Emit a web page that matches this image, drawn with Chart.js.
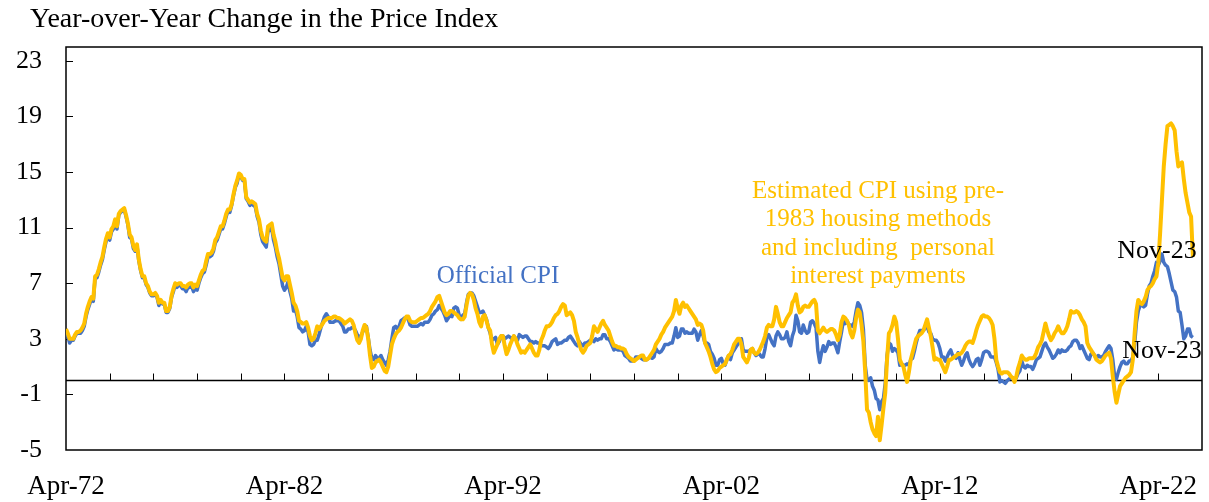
<!DOCTYPE html>
<html>
<head>
<meta charset="utf-8">
<script src="https://cdn.jsdelivr.net/npm/chart.js@4.4.1/dist/chart.umd.min.js"></script>
<style>
  html, body { margin: 0; padding: 0; background: #fff; }
  #c { display: block; }
</style>
</head>
<body>
<canvas id="c" width="1209" height="502"></canvas>
<script>
/* monthly series, Apr-72 .. Nov-23 (one row per calendar year) */
const xTickLabels = ['Apr-72', 'Apr-82', 'Apr-92', 'Apr-02', 'Apr-12', 'Apr-22'];
const yTicks = [-5, -1, 3, 7, 11, 15, 19, 23];

const officialCpi = [
  3.5,3.2,2.7,2.9,2.9,3.2,3.4,3.4,3.4,
  3.6,3.9,4.6,5.1,5.5,5.9,5.7,7.4,7.4,7.8,8.3,8.7,
  9.4,10.0,10.4,10.1,10.7,10.9,11.5,10.9,11.9,12.1,12.2,12.3,
  11.8,11.2,10.3,10.2,9.5,9.3,9.7,8.6,7.9,7.4,7.4,6.9,
  6.7,6.3,6.1,6.1,6.2,6.0,5.4,5.7,5.5,5.5,4.9,4.9,
  5.2,6.0,6.4,6.9,6.7,6.9,6.8,6.6,6.6,6.4,6.7,6.7,
  6.8,6.4,6.6,6.5,7.0,7.4,7.7,7.8,8.3,8.9,8.9,9.0,
  9.3,9.9,10.1,10.5,10.9,10.9,11.3,11.8,12.2,12.1,12.6,13.3,
  13.9,14.2,14.8,14.7,14.4,14.4,13.1,12.9,12.6,12.8,12.6,12.5,
  11.8,11.4,10.5,10.0,9.8,9.6,10.8,10.8,11.0,10.1,9.6,8.9,
  8.4,7.6,6.8,6.5,6.7,7.1,6.4,5.9,5.0,5.1,4.6,3.8,
  3.7,3.5,3.6,3.9,3.5,2.6,2.5,2.6,2.9,2.9,3.3,3.8,
  4.2,4.6,4.8,4.6,4.2,4.2,4.2,4.3,4.3,4.3,4.1,3.9,
  3.5,3.5,3.7,3.7,3.8,3.8,3.6,3.3,3.1,3.2,3.5,3.8,
  3.9,3.1,2.2,1.6,1.5,1.8,1.6,1.6,1.8,1.5,1.3,1.1,
  1.5,2.1,3.0,3.8,3.9,3.7,3.9,4.3,4.4,4.5,4.5,4.4,
  4.0,3.9,3.9,3.9,3.9,4.0,4.1,4.0,4.2,4.2,4.2,4.4,
  4.7,4.8,5.0,5.1,5.4,5.2,5.0,4.7,4.3,4.5,4.7,4.6,
  5.2,5.3,5.2,4.7,4.4,4.7,4.8,5.6,6.2,6.3,6.3,6.1,
  5.7,5.3,4.9,4.9,5.0,4.7,4.4,3.8,3.4,2.9,3.0,3.1,
  2.6,2.8,3.2,3.2,3.0,3.1,3.2,3.1,3.0,3.2,3.0,2.9,
  3.3,3.2,3.1,3.2,3.2,3.0,2.8,2.8,2.7,2.8,2.7,2.7,
  2.5,2.5,2.5,2.4,2.3,2.5,2.8,2.9,3.0,2.6,2.7,2.7,
  2.8,2.9,2.9,3.1,3.2,3.0,2.8,2.6,2.5,2.8,2.6,2.5,
  2.7,2.7,2.8,2.9,2.9,2.8,3.0,2.9,3.0,3.0,3.3,3.3,
  3.0,3.0,2.8,2.5,2.2,2.3,2.2,2.2,2.2,2.1,1.8,1.7,
  1.6,1.4,1.4,1.4,1.7,1.7,1.7,1.6,1.5,1.5,1.5,1.6,
  1.7,1.6,1.7,2.3,2.1,2.0,2.1,2.3,2.6,2.6,2.6,2.7,
  2.7,3.2,3.8,3.1,3.2,3.7,3.7,3.4,3.5,3.4,3.4,3.4,
  3.7,3.5,2.9,3.3,3.6,3.2,2.7,2.7,2.6,2.1,1.9,1.6,
  1.1,1.1,1.5,1.6,1.2,1.1,1.5,1.8,1.5,2.0,2.2,2.4,
  2.6,3.0,3.0,2.2,2.1,2.1,2.1,2.2,2.3,2.0,1.8,1.9,
  1.9,1.7,1.7,2.3,3.1,3.3,3.0,2.7,2.5,3.2,3.5,3.3,
  3.0,3.0,3.1,3.5,2.8,2.5,3.2,3.6,4.7,4.3,3.5,3.4,
  4.0,3.6,3.4,3.5,4.2,4.3,4.1,3.8,2.1,1.3,2.0,2.5,
  2.1,2.4,2.8,2.6,2.7,2.7,2.4,2.0,2.8,3.5,4.3,4.1,
  4.3,4.0,4.0,3.9,4.2,5.0,5.6,5.4,4.9,3.7,1.1,0.1,
  0.0,0.2,-0.4,-0.7,-1.3,-1.4,-2.1,-1.5,-1.3,-0.2,1.8,2.7,
  2.6,2.1,2.3,2.2,2.0,1.1,1.2,1.1,1.1,1.2,1.1,1.5,
  1.6,2.1,2.7,3.2,3.6,3.6,3.6,3.8,3.9,3.5,3.4,3.0,
  2.9,2.9,2.7,2.3,1.7,1.7,1.4,1.7,2.0,2.2,1.8,1.7,
  1.6,2.0,1.5,1.1,1.4,1.8,2.0,1.5,1.2,1.0,1.2,1.5,
  1.6,1.1,1.5,2.0,2.1,2.1,2.0,1.7,1.7,1.7,1.3,0.8,
  -0.1,0.0,-0.1,-0.2,0.0,0.1,0.2,0.2,0.0,0.2,0.5,0.7,
  1.4,1.0,0.9,1.1,1.0,1.0,0.8,1.1,1.5,1.6,1.7,2.1,
  2.5,2.7,2.4,2.2,1.9,1.6,1.7,1.9,2.2,2.0,2.2,2.1,
  2.1,2.2,2.4,2.5,2.8,2.9,2.9,2.7,2.3,2.5,2.2,1.9,
  1.6,1.5,1.9,2.0,1.8,1.6,1.8,1.7,1.7,1.8,2.1,2.3,
  2.5,2.3,1.5,0.3,0.1,0.6,1.0,1.3,1.4,1.2,1.2,1.4,
  1.4,1.7,2.6,4.2,5.0,5.4,5.4,5.3,5.4,6.2,6.8,7.0,
  7.5,7.9,8.5,8.3,8.6,9.1,8.5,8.3,8.2,7.7,7.1,6.5,
  6.4,6.0,5.0,4.9,4.0,3.0,3.2,3.7,3.7,3.2,3.1
];

const estimatedCpi = [
  3.7,3.4,3.0,3.0,3.0,3.3,3.5,3.5,3.6,
  3.8,4.1,4.8,5.3,5.7,6.0,5.9,7.5,7.6,8.0,8.5,8.9,
  9.6,10.2,10.6,10.3,10.9,11.1,11.6,11.1,12.0,12.2,12.3,12.4,
  11.9,11.3,10.5,10.3,9.7,9.4,9.8,8.7,8.0,7.5,7.5,7.0,
  6.8,6.4,6.2,6.2,6.3,6.1,5.6,5.8,5.6,5.6,5.0,5.0,
  5.3,6.1,6.6,7.0,6.9,7.0,7.0,6.8,6.8,6.7,6.9,7.0,
  7.0,6.7,6.9,6.8,7.2,7.6,7.9,8.0,8.6,9.1,9.1,9.2,
  9.5,10.1,10.3,10.7,11.1,11.1,11.5,12.0,12.3,12.3,12.7,13.4,
  14.0,14.4,14.9,14.8,14.5,14.5,13.2,13.0,12.8,12.9,12.8,12.7,
  12.0,11.6,10.8,10.3,10.1,10.0,11.1,11.2,11.3,10.5,10.0,9.3,
  8.8,8.1,7.4,7.2,7.5,7.5,6.9,6.3,5.6,5.4,5.0,4.3,
  4.2,4.1,4.1,4.2,3.8,3.2,2.9,3.0,3.4,3.9,3.7,3.9,
  4.1,4.3,4.4,4.5,4.5,4.5,4.6,4.6,4.5,4.5,4.4,4.3,
  4.1,4.2,4.3,4.4,4.3,4.0,3.4,2.9,2.7,3.0,3.6,4.0,
  3.8,3.0,1.8,0.9,1.0,1.3,1.4,1.5,1.3,1.0,0.7,0.6,
  1.0,1.8,2.6,3.0,3.3,3.5,3.6,3.8,4.1,4.4,4.6,4.6,
  4.3,4.2,4.2,4.2,4.3,4.4,4.5,4.5,4.6,4.7,4.8,5.0,
  5.3,5.5,5.7,6.0,6.1,5.7,5.3,4.9,4.7,4.8,5.0,5.0,
  4.9,4.8,4.7,4.5,4.4,4.4,4.6,5.4,6.1,6.3,6.2,5.8,
  5.2,4.8,4.2,3.9,4.6,4.7,4.3,3.8,3.6,2.6,2.0,2.3,
  2.6,3.0,3.2,3.2,2.5,1.9,2.2,2.6,2.9,3.2,3.0,2.6,
  2.3,2.0,2.1,2.0,2.2,2.4,2.6,2.3,2.0,1.8,1.8,2.2,
  2.9,3.2,3.6,3.9,3.9,4.0,4.2,4.5,4.7,4.8,5.0,5.3,
  5.5,5.4,4.7,4.8,4.9,4.7,4.3,3.5,3.1,2.6,2.2,2.0,
  2.2,2.5,2.6,2.7,3.2,3.9,3.7,3.5,3.8,4.1,4.3,4.0,
  3.8,3.6,3.2,2.8,2.5,2.5,2.4,2.4,2.3,2.3,2.2,1.9,
  1.7,1.6,1.5,1.4,1.5,1.6,1.7,1.8,1.8,1.5,1.5,1.6,
  1.8,2.0,2.2,2.6,2.8,3.0,3.3,3.5,3.8,4.0,4.2,4.4,
  4.6,5.0,5.8,5.2,4.8,5.4,5.6,5.3,5.4,5.2,5.0,4.8,
  4.6,4.4,4.0,4.1,4.0,3.6,2.7,2.4,2.1,1.7,1.2,0.8,
  0.6,0.7,0.9,1.0,1.1,1.2,1.5,1.8,1.9,2.2,2.6,2.8,
  3.0,3.0,2.6,1.7,1.5,1.3,1.6,2.2,2.3,2.0,1.9,2.0,
  2.2,2.5,2.8,3.2,3.8,4.0,3.9,3.9,4.4,5.3,4.8,4.2,
  3.9,3.9,4.2,4.5,4.7,4.9,5.6,5.8,6.2,5.4,4.9,5.0,
  5.3,5.4,5.3,5.3,5.5,5.7,5.8,5.5,3.6,3.4,3.6,3.8,
  3.6,3.5,3.6,3.7,3.7,3.6,3.3,2.9,3.3,4.2,4.6,4.5,
  4.3,4.0,3.4,3.1,3.6,4.5,5.1,4.9,4.0,2.8,0.6,-2.1,
  -2.3,-3.0,-3.5,-3.8,-4.0,-2.6,-4.3,-3.2,-2.0,-0.9,1.5,3.4,
  3.6,4.0,4.6,4.2,3.0,1.5,1.2,1.0,0.4,-0.1,0.6,1.5,
  2.0,2.5,3.0,3.2,3.3,3.4,3.6,4.0,4.4,3.8,3.2,2.4,
  1.5,1.6,1.5,1.5,1.2,0.9,0.6,1.0,1.5,1.5,1.6,1.7,
  1.8,1.9,1.9,2.0,2.2,2.5,2.7,2.8,2.8,2.7,3.1,3.6,
  4.0,4.3,4.6,4.7,4.6,4.6,4.5,4.3,4.0,3.0,1.5,1.0,
  0.6,0.5,0.6,0.6,0.6,0.5,0.3,0.2,-0.1,0.3,0.9,1.3,
  1.8,1.6,1.5,1.5,1.6,1.6,1.6,1.7,2.0,2.4,2.6,2.9,
  3.5,4.1,3.6,3.2,2.9,3.1,3.4,3.6,3.9,3.6,3.4,3.4,
  3.6,3.9,4.4,5.0,4.9,4.9,5.0,4.9,4.7,4.4,4.2,3.9,
  2.7,2.4,2.2,2.0,1.8,1.5,1.4,1.3,1.4,1.6,1.8,1.9,
  2.0,1.6,0.3,-0.8,-1.6,-1.0,-0.4,-0.2,0.0,0.2,0.3,0.4,
  0.6,1.5,3.4,5.0,5.8,5.6,5.5,5.7,6.0,6.5,6.7,6.8,
  7.0,7.3,7.5,8.5,10.6,13.0,15.4,17.0,18.3,18.4,18.5,18.3,
  18.0,16.5,15.4,15.6,15.7,14.5,13.5,12.8,12.1,11.8,8.9
];

const BLUE   = '#4472C4';
const YELLOW = '#FFC000';
const FONT   = "'Liberation Serif', 'Times New Roman', serif";

const toPoints = arr => arr.map((v, i) => ({ x: i, y: v }));

/* frame, zero line, inward tick marks and the text notes */
const decor = {
  id: 'decor',
  beforeDatasetsDraw(chart) {
    const { ctx, chartArea: a, scales: { x, y } } = chart;
    ctx.save();
    ctx.strokeStyle = '#000';
    ctx.lineWidth = 1.5;
    ctx.strokeRect(a.left, a.top, a.right - a.left, a.bottom - a.top);
    const y0 = y.getPixelForValue(0);
    ctx.beginPath();
    ctx.moveTo(a.left, y0);
    ctx.lineTo(a.right, y0);
    ctx.stroke();
    ctx.lineWidth = 1;
    ctx.beginPath();
    for (let m = 24; m < x.max; m += 24) {
      const px = Math.round(x.getPixelForValue(m)) + 0.5;
      ctx.moveTo(px, y0);
      ctx.lineTo(px, y0 - 7);
    }
    yTicks.forEach(v => {
      if (v === y.min) return;
      const py = Math.round(y.getPixelForValue(v)) + 0.5;
      ctx.moveTo(a.left, py);
      ctx.lineTo(a.left + 7, py);
    });
    ctx.stroke();
    ctx.restore();
  },
  afterDatasetsDraw(chart) {
    const { ctx } = chart;
    ctx.save();
    ctx.textBaseline = 'middle';

    ctx.font = '28px ' + FONT;
    ctx.fillStyle = '#000';
    ctx.textAlign = 'left';
    ctx.fillText('Year-over-Year Change in the Price Index', 30, 20);

    ctx.font = '25px ' + FONT;
    ctx.textAlign = 'center';
    ctx.fillStyle = BLUE;
    ctx.fillText('Official CPI', 498, 276);

    ctx.fillStyle = YELLOW;
    ['Estimated CPI using pre-', '1983 housing methods', 'and including  personal', 'interest payments']
      .forEach((t, i) => ctx.fillText(t, 878, 191 + i * 28.5));

    ctx.fillStyle = '#000';
    ctx.font = '26px ' + FONT;
    ctx.fillText('Nov-23', 1157, 251);
    ctx.fillText('Nov-23', 1162, 351);
    ctx.restore();
  }
};

new Chart(document.getElementById('c'), {
  type: 'line',
  data: {
    datasets: [
      {
        label: 'Estimated CPI using pre-1983 housing methods and including personal interest payments',
        data: toPoints(estimatedCpi),
        borderColor: YELLOW,
        borderWidth: 4,
        pointRadius: 0,
        tension: 0,
        borderJoinStyle: 'round',
      },
      {
        label: 'Official CPI',
        data: toPoints(officialCpi),
        borderColor: BLUE,
        borderWidth: 3.5,
        pointRadius: 0,
        tension: 0,
        borderJoinStyle: 'round',
      },
    ],
  },
  options: {
    responsive: false,
    devicePixelRatio: 1,
    animation: false,
    layout: { padding: { top: 47, right: 7, left: 0, bottom: 0 } },
    plugins: { legend: { display: false }, tooltip: { enabled: false } },
    scales: {
      x: {
        type: 'linear',
        min: 0,
        max: 624,
        afterBuildTicks: s => { s.ticks = xTickLabels.map((_, k) => ({ value: k * 120 })); },
        afterFit: s => { s.height = 52; s.paddingLeft = 0; s.paddingRight = 0; },
        grid: { display: false, drawTicks: false },
        border: { display: false },
        ticks: {
          callback: v => xTickLabels[Math.round(v / 120)],
          color: '#000',
          font: { family: FONT, size: 27 },
          padding: 21,
          maxRotation: 0,
          autoSkip: false,
        },
      },
      y: {
        min: -5,
        max: 24,
        afterBuildTicks: s => { s.ticks = yTicks.map(v => ({ value: v })); },
        afterFit: s => { s.width = 66; },
        grid: { display: false, drawTicks: false },
        border: { display: false },
        ticks: {
          color: '#000',
          font: { family: FONT, size: 26 },
          padding: 24,
        },
      },
    },
  },
  plugins: [decor],
});
</script>
</body>
</html>
